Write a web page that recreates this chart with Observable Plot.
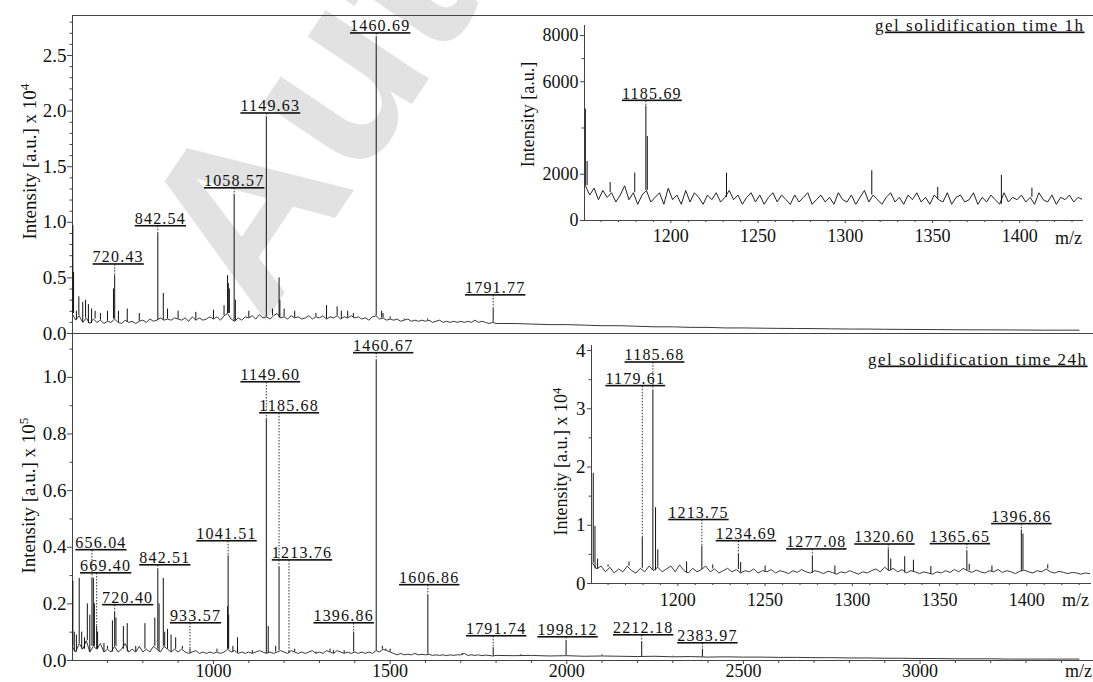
<!DOCTYPE html>
<html><head><meta charset="utf-8">
<script src="https://cdn.jsdelivr.net/npm/d3@7"></script>
<script src="https://cdn.jsdelivr.net/npm/@observablehq/plot@0.6"></script>
<style>
html,body{margin:0;padding:0;background:#fff;}
#chart{position:relative;width:1093px;height:682px;overflow:hidden;background:#fff;}
#chart svg{position:absolute;font-family:'Liberation Serif','Times New Roman',serif !important;}
</style></head><body><div id="chart"></div>
<script>
// ---------------- DATA ----------------
// Top spectrum: gel solidification time 1h, intensity in 10^4 a.u.
const noise1hA_start = 600, noise1hA_step = 10;
const noise1hA = [
 0.18,0.12,0.16,0.10,0.14,0.09,0.13,0.10,0.12,0.09,
 0.11,0.10,0.13,0.10,0.09,0.12,0.10,0.11,0.09,0.11,
 0.12,0.10,0.13,0.11,0.12,0.14,0.12,0.13,0.12,0.14,
 0.13,0.12,0.14,0.11,0.15,0.12,0.14,0.12,0.13,0.15,
 0.13,0.15,0.12,0.16,0.18,0.13,0.11,0.14,0.12,0.15,
 0.14,0.16,0.13,0.17,0.14,0.15,0.13,0.16,0.18,0.14,
 0.15,0.13,0.16,0.14,0.15,0.13,0.14,0.16,0.13,0.15,
 0.14,0.16,0.13,0.15,0.14,0.16,0.13,0.15,0.14,0.16,
 0.14,0.15,0.13,0.14,0.12,0.15,0.16,0.13,0.14,0.12,
 0.13,0.12,0.13,0.11,0.12,0.13,0.11,0.12,0.11,0.12,
 0.11,0.12,0.10,0.11,0.12,0.10,0.11,0.10,0.11,0.10,
 0.11,0.10,0.11,0.10,0.12,0.10,0.11,0.10,0.09,0.10,
 0.09];
const noise1hB_start = 1850, noise1hB_step = 50;
const noise1hB = [0.09,0.085,0.08,0.08,0.075,0.07,0.07,0.065,0.06,0.06,0.055,0.055,0.05,0.05,0.048,0.046,0.045,0.044,0.042,0.04,0.04,0.038,0.037,0.036,0.035,0.034,0.033,0.033,0.032,0.031,0.03,0.03,0.03];
const peaks1h = [[602,0.97],[604,0.55],[612,0.2],[619,0.33],[630,0.28],[638,0.3],[646,0.26],[655,0.22],[665,0.2],[680,0.18],[700,0.2],[717,0.4],[720.43,0.52],[731,0.2],[756,0.22],[790,0.18],[842.54,0.9],[858,0.36],[870,0.22],[900,0.2],[950,0.19],[1000,0.21],[1030,0.25],[1040,0.52],[1042,0.45],[1045,0.4],[1058.57,1.25],[1062,0.3],[1100,0.2],[1149.63,1.95],[1167,0.22],[1185.69,0.5],[1188,0.3],[1200,0.22],[1230,0.2],[1290,0.18],[1320,0.25],[1350,0.24],[1362,0.2],[1380,0.2],[1396,0.18],[1460.69,2.67],[1476,0.2],[1480,0.18],[1500,0.15],[1540,0.13],[1606,0.13],[1791.77,0.22]];
const labels1h = [720.43, 842.54, 1058.57, 1149.63, 1460.69, 1791.77];

// Bottom spectrum: gel solidification time 24h, intensity in 10^5 a.u.
const noise24A_start = 600, noise24A_step = 10;
const noise24A = [
 .05,.03,.06,.04,.07,.03,.05,.04,.06,.03,
 .04,.03,.05,.03,.04,.06,.03,.04,.03,.05,
 .03,.04,.03,.05,.04,.03,.05,.04,.03,.04,
 .03,.04,.03,.025,.03,.035,.025,.03,.025,.03,
 .025,.03,.025,.03,.04,.03,.035,.025,.03,.025,
 .03,.025,.03,.035,.03,.025,.03,.025,.03,.035,
 .03,.025,.035,.03,.025,.03,.025,.03,.035,.025,
 .03,.025,.035,.03,.025,.035,.03,.025,.03,.025,
 .03,.025,.03,.025,.03,.025,.035,.03,.04,.035,
 .03,.025,.02,.025,.02,.022,.02,.025,.02,.022,
 .02,.022,.018,.02,.018,.02,.017,.02,.018,.02,
 .02,.025,.018,.02,.018,.02,.017,.019,.018,.016,
 .018];
const noise24B_start = 1850, noise24B_step = 50;
const noise24B = [.017,.018,.016,.017,.015,.016,.015,.014,.015,.013,.014,.012,.013,.012,.012,.011,.011,.01,.01,.009,.009,.008,.008,.007,.007,.006,.006,.006,.005,.005,.005,.005,.005];
const peaks24 = [[602,0.28],[606,0.1],[612,0.09],[620,0.29],[627,0.1],[635,0.08],[643,0.2],[650,0.16],[656.04,0.29],[660,0.29],[663,0.2],[669.4,0.12],[672,0.1],[690,0.06],[700,0.05],[714,0.14],[720.4,0.17],[724,0.15],[745,0.12],[756,0.13],[780,0.05],[806,0.13],[834,0.15],[842.51,0.32],[846,0.2],[858,0.29],[862,0.1],[870,0.11],[880,0.09],[893,0.08],[912,0.05],[933.57,0.04],[970,0.03],[1010,0.04],[1040,0.19],[1041.51,0.37],[1043,0.16],[1055,0.05],[1068,0.08],[1110,0.035],[1149.6,0.85],[1155,0.12],[1176,0.05],[1185.68,0.33],[1213.76,0.035],[1230,0.04],[1290,0.03],[1330,0.04],[1340,0.035],[1370,0.035],[1396.86,0.1],[1440,0.03],[1460.67,1.06],[1478,0.05],[1488,0.04],[1500,0.04],[1606.86,0.23],[1700,0.02],[1704,0.025],[1791.74,0.045],[1870,0.02],[1998.12,0.07],[2100,0.02],[2212.18,0.064],[2300,0.015],[2383.97,0.04]];
const labels24 = [656.04, 669.4, 720.4, 842.51, 933.57, 1041.51, 1149.6, 1185.68, 1213.76, 1396.86, 1460.67, 1606.86, 1791.74, 1998.12, 2212.18, 2383.97];

// Inset, 1h: intensity in a.u.
const noiseIn1h_start = 1151, noiseIn1h_step = 2.5;
const noiseIn1h = [
 1500,1100,1400,900,1300,1000,1200,800,1100,1500,
 900,1200,700,1100,1300,800,1000,1200,700,1400,
 900,1100,700,1300,800,1200,1000,700,1100,900,
 1200,800,1000,1300,900,1100,700,1000,1200,800,
 1100,700,1000,1200,800,1100,900,700,1100,800,
 1000,1200,700,900,1100,800,1000,700,1200,900,
 800,1100,700,1000,1300,800,1100,900,700,1000,
 1200,800,1000,700,1100,900,1200,800,1000,700,
 1100,900,800,1200,700,1000,1100,800,900,1200,
 700,1000,800,1100,900,700,1200,800,1000,900,
 1100,800,1000,700,1200,900,800,1100,700,1000,
 900,1100,800,1000,900];
const peaksIn1h = [[1151,4810],[1152,2550],[1165.2,1640],[1179.3,2050],[1185.69,4950],[1186.5,3630],[1231.9,2050],[1315.2,2150],[1353,1430],[1389.5,1950],[1407,1400]];
const labelsIn1h = [1185.69];

// Inset, 24h: intensity in 10^4 a.u.
const noiseIn24_start = 1151, noiseIn24_step = 2.5;
const noiseIn24 = [
 0.35,0.25,0.3,0.2,0.28,0.18,0.25,0.2,0.3,0.22,
 0.18,0.26,0.2,0.3,0.22,0.28,0.2,0.25,0.3,0.2,
 0.32,0.22,0.18,0.26,0.2,0.24,0.3,0.2,0.25,0.18,
 0.22,0.26,0.2,0.24,0.18,0.22,0.2,0.25,0.18,0.22,
 0.2,0.24,0.18,0.22,0.2,0.17,0.22,0.19,0.24,0.2,
 0.18,0.22,0.2,0.17,0.21,0.19,0.16,0.2,0.18,0.22,
 0.19,0.16,0.2,0.18,0.22,0.25,0.2,0.28,0.22,0.26,
 0.2,0.24,0.18,0.22,0.2,0.17,0.2,0.18,0.16,0.2,
 0.18,0.22,0.19,0.24,0.2,0.26,0.22,0.19,0.23,0.2,
 0.18,0.22,0.2,0.24,0.19,0.22,0.2,0.17,0.21,0.23,
 0.2,0.18,0.22,0.2,0.25,0.2,0.18,0.21,0.19,0.17,
 0.19,0.18,0.16,0.18,0.17];
const peaksIn24 = [[1151.5,1.89],[1152.5,0.98],[1154,0.42],[1160,0.32],[1172,0.37],[1179.61,0.8],[1185.68,3.31],[1187.2,1.3],[1188.5,0.58],[1205,0.37],[1213.75,0.64],[1220,0.32],[1234.69,0.5],[1236,0.36],[1250,0.3],[1277.08,0.47],[1290,0.3],[1320.6,0.58],[1322,0.42],[1330,0.46],[1335,0.4],[1345,0.29],[1365.65,0.56],[1367,0.33],[1380,0.3],[1396.86,0.92],[1397.8,0.85],[1412,0.32]];
const labelsIn24 = [1179.61, 1185.68, 1213.75, 1234.69, 1277.08, 1320.6, 1365.65, 1396.86];

// Tick labels
const ticks1hY = [0, 0.5, 1.0, 1.5, 2.0, 2.5];
const ticks24Y = [0, 0.2, 0.4, 0.6, 0.8, 1.0];
const ticksMainX = [1000, 1500, 2000, 2500, 3000];
const ticksIn1hY = [0, 2000, 6000, 8000];
const ticksIn24Y = [0, 1, 2, 3, 4];
const ticksInsetX = [1200, 1250, 1300, 1350, 1400];

// ---------------- LAYOUT (label placement, px) ----------------
const lay1h = {dx: [3.5, 2.5, 0, 4, 4, 2], lift: [11, 7, 6, 3, 3, 13.5]};
const lay24 = {dx: [9, 9, 13, 7, 5.5, -1.6, 4, 10, 13, -10, 7, 1.4, 3, 1.5, 1.5, 5],
               lift: [28, 53, 7, 4.4, 25.7, 14.3, 37.4, 153.6, 90, 8.7, 7, 10, 11.3, 3.2, 6.9, 5.7]};
const layIn1h = {dx: [6], lift: [5]};
const layIn24 = {dx: [-7, 1.6, -3.4, 7.6, 4, -3.8, -7, 0], lift: [150.6, 28, 26, 13, 6.5, 5, 6.5, 5.6]};

// ---------------- HELPERS ----------------
const SERIF = "'Liberation Serif','Times New Roman',serif";
const INK = "#111", AXIS = "#444";
const series = (start, step, vals) => vals.map((v, i) => ({mz: start + i * step, v}));
function withFeet(peaks, noise) {
  return peaks.map(([mz, v]) => {
    let best = noise[0];
    for (const n of noise) if (Math.abs(n.mz - mz) < Math.abs(best.mz - mz)) best = n;
    return {mz, v, foot: Math.min(best.v, v)};
  });
}
function spectrum(noise, peaks, w = 0.9) {
  return [
    Plot.line(noise, {x: "mz", y: "v", stroke: "#222", strokeWidth: w, clip: true}),
    Plot.ruleX(withFeet(peaks, noise), {x: "mz", y1: "foot", y2: "v", stroke: INK, strokeWidth: 1, clip: true})
  ];
}
function annotations(peaks, labels, lay) {
  const out = [];
  labels.forEach((m, i) => {
    const p = peaks.find(d => d[0] === m);
    const d = {mz: m, v: p[1], text: m.toFixed(2)};
    out.push(Plot.ruleX([d], {x: "mz", y1: "v", y2: "v", insetTop: -lay.lift[i], stroke: "#333", strokeWidth: 1, strokeDasharray: "1.5,1.5"}));
    out.push(Plot.text([d], {x: "mz", y: "v", text: "text", dx: lay.dx[i], dy: -lay.lift[i] - 2.5, lineAnchor: "bottom", fontSize: 16, fill: INK}));
  });
  return out;
}
const minor = (a, b, s, skip) => d3.range(a, b + s / 2, s).map(v => +v.toFixed(4)).filter(v => !skip.some(k => Math.abs(k - v) < 1e-6));
const baseStyle = {"font-family": SERIF, "font-size": "18px", background: "transparent", color: INK, overflow: "visible"};

const chartEl = document.getElementById("chart");
function place(svg, left, topPx) { svg.style.left = left + "px"; svg.style.top = topPx + "px"; chartEl.appendChild(svg); }

// ---------------- TOP MAIN (1h) ----------------
const s1h = series(noise1hA_start, noise1hA_step, noise1hA).concat(series(noise1hB_start, noise1hB_step, noise1hB));
const plotTop = Plot.plot({
  width: 1093, height: 336, marginLeft: 72, marginRight: 0, marginTop: 15, marginBottom: 3,
  style: baseStyle,
  x: {domain: [601, 3491], axis: null},
  y: {domain: [0, 2.86]},
  marks: [
    Plot.text(["Auth"], {frameAnchor: "top-left", text: d => d, dx: 190, dy: 310, rotate: -56, fontSize: 235, fontWeight: "bold", fontFamily: "'Liberation Sans',Arial,sans-serif", fill: "#e2e2e2", textAnchor: "start", lineAnchor: "bottom"}),
    Plot.frame({anchor: "top", stroke: AXIS}),
    Plot.frame({anchor: "left", stroke: AXIS}),
    Plot.frame({anchor: "bottom", stroke: AXIS}),
    Plot.axisY({ticks: ticks1hY, tickFormat: d3.format(".1f"), tickSize: 5, tickPadding: 1, fontSize: 19, label: null, stroke: AXIS}),
    Plot.axisY({ticks: minor(0.1, 2.8, 0.1, ticks1hY), tickSize: 2.5, tickFormat: () => "", label: null, stroke: AXIS}),
    ...spectrum(s1h, peaks1h),
    ...annotations(peaks1h, labels1h, lay1h),
    Plot.text(["Intensity [a.u.] x 10^4"], {frameAnchor: "left", text: d => d, rotate: -90, dx: -43, dy: -13, fontSize: 19, lineAnchor: "middle", textAnchor: "middle", fill: INK})
  ]
});
place(plotTop, 0, 0);

// ---------------- BOTTOM MAIN (24h) ----------------
const s24 = series(noise24A_start, noise24A_step, noise24A).concat(series(noise24B_start, noise24B_step, noise24B));
const plotBottom = Plot.plot({
  width: 1093, height: 349, marginLeft: 72, marginRight: 0, marginTop: 0, marginBottom: 22,
  style: baseStyle,
  x: {domain: [601, 3491]},
  y: {domain: [0, 1.155]},
  marks: [
    Plot.frame({anchor: "left", stroke: AXIS}),
    Plot.frame({anchor: "bottom", stroke: AXIS}),
    Plot.axisY({ticks: ticks24Y, tickFormat: d3.format(".1f"), tickSize: 5, tickPadding: 1, fontSize: 19, label: null, stroke: AXIS}),
    Plot.axisY({ticks: [0.1, 0.3, 0.5, 0.7, 0.9, 1.1], tickSize: 2.5, tickFormat: () => "", label: null, stroke: AXIS}),
    Plot.axisX({ticks: ticksMainX, tickFormat: d => String(d), tickSize: 4, tickPadding: 0, fontSize: 18, label: null, stroke: AXIS}),
    Plot.axisX({ticks: minor(700, 3400, 100, ticksMainX), tickSize: 3, tickFormat: () => "", label: null, stroke: AXIS}),
    ...spectrum(s24, peaks24),
    ...annotations(peaks24, labels24, lay24),
    Plot.text(["m/z"], {frameAnchor: "bottom-right", text: d => d, dx: -15, dy: 11, fontSize: 18, lineAnchor: "middle", textAnchor: "middle", fill: INK}),
    Plot.text(["Intensity [a.u.] x 10^5"], {frameAnchor: "left", text: d => d, rotate: -90, dx: -44, dy: -1.5, fontSize: 19, lineAnchor: "middle", textAnchor: "middle", fill: INK})
  ]
});
place(plotBottom, 0, 333);

// ---------------- INSET 1h ----------------
const sIn1h = series(noiseIn1h_start, noiseIn1h_step, noiseIn1h);
const plotIn1h = Plot.plot({
  width: 593, height: 250, marginLeft: 84, marginRight: 11, marginTop: 25, marginBottom: 30,
  style: baseStyle,
  x: {domain: [1150.5, 1436]},
  y: {domain: [0, 8432]},
  marks: [
    Plot.frame({anchor: "left", stroke: AXIS}),
    Plot.frame({anchor: "bottom", stroke: AXIS}),
    Plot.axisY({ticks: ticksIn1hY, tickFormat: d => String(d), tickSize: 4, tickPadding: 2, fontSize: 18, label: null, stroke: AXIS}),
    Plot.axisY({ticks: [4000, 7000], tickSize: 2.5, tickFormat: () => "", label: null, stroke: AXIS}),
    Plot.axisX({ticks: ticksInsetX, tickFormat: d => String(d), tickSize: 3, tickPadding: 6, fontSize: 18, label: null, stroke: AXIS}),
    Plot.axisX({ticks: minor(1160, 1430, 10, ticksInsetX), tickSize: 2, tickFormat: () => "", label: null, stroke: AXIS}),
    ...spectrum(sIn1h, peaksIn1h, 1),
    ...annotations(peaksIn1h, labelsIn1h, layIn1h),
    Plot.text(["gel solidification time 1h"], {frameAnchor: "top-right", text: d => d, dx: 2, dy: 5, fontSize: 17, lineAnchor: "bottom", textAnchor: "end", fill: INK}),
    Plot.text(["m/z"], {frameAnchor: "bottom-right", text: d => d, dx: -14, dy: 18, fontSize: 18, lineAnchor: "middle", textAnchor: "middle", fill: INK}),
    Plot.text(["Intensity [a.u.]"], {frameAnchor: "left", text: d => d, rotate: -90, dx: -56, dy: -8.5, fontSize: 18, lineAnchor: "middle", textAnchor: "middle", fill: INK})
  ]
});
place(plotIn1h, 500, 0);

// ---------------- INSET 24h ----------------
const sIn24 = series(noiseIn24_start, noiseIn24_step, noiseIn24);
const plotIn24 = Plot.plot({
  width: 593, height: 290, marginLeft: 91, marginRight: 3, marginTop: 12, marginBottom: 40,
  style: baseStyle,
  x: {domain: [1150.5, 1436.5]},
  y: {domain: [0, 4.086]},
  marks: [
    Plot.frame({anchor: "left", stroke: AXIS}),
    Plot.frame({anchor: "bottom", stroke: AXIS}),
    Plot.axisY({ticks: ticksIn24Y, tickFormat: d => String(d), tickSize: 4, tickPadding: 2, fontSize: 19, label: null, stroke: AXIS}),
    Plot.axisY({ticks: [0.5, 1.5, 2.5, 3.5], tickSize: 2.5, tickFormat: () => "", label: null, stroke: AXIS}),
    Plot.axisX({ticks: ticksInsetX, tickFormat: d => String(d), tickSize: 3, tickPadding: 7, fontSize: 18, label: null, stroke: AXIS}),
    Plot.axisX({ticks: minor(1160, 1430, 10, ticksInsetX), tickSize: 2, tickFormat: () => "", label: null, stroke: AXIS}),
    ...spectrum(sIn24, peaksIn24, 0.9),
    ...annotations(peaksIn24, labelsIn24, layIn24),
    Plot.text(["gel solidification time 24h"], {frameAnchor: "top-right", text: d => d, dx: -3, dy: 19, fontSize: 17, lineAnchor: "bottom", textAnchor: "end", fill: INK}),
    Plot.text(["m/z"], {frameAnchor: "bottom-right", text: d => d, dx: -15, dy: 17, fontSize: 18, lineAnchor: "middle", textAnchor: "middle", fill: INK}),
    Plot.text(["Intensity [a.u.] x 10^4"], {frameAnchor: "left", text: d => d, rotate: -90, dx: -30, dy: -3, fontSize: 18, lineAnchor: "middle", textAnchor: "middle", fill: INK})
  ]
});
place(plotIn24, 500, 333);

// ---------------- TEXT STYLING (underline labels, superscripts) ----------------
chartEl.querySelectorAll("text").forEach(t => {
  const s = t.textContent;
  if (s.startsWith("\u26a0")) { t.remove(); return; }
  if (/^\d{3,4}\.\d{2}$/.test(s)) {
    t.style.textDecoration = "underline";
    t.style.letterSpacing = "1.2px";
  }
  if (/^gel /.test(s)) {
    t.style.textDecoration = "underline";
    t.style.letterSpacing = "1.5px";
  }
  if (s.includes("^")) {
    const [base, sup] = s.split("^");
    t.textContent = base;
    const ts = document.createElementNS("http://www.w3.org/2000/svg", "tspan");
    ts.setAttribute("dy", "-0.5em");
    ts.setAttribute("font-size", "0.7em");
    ts.textContent = sup;
    t.appendChild(ts);
  }
});
</script></body></html>
